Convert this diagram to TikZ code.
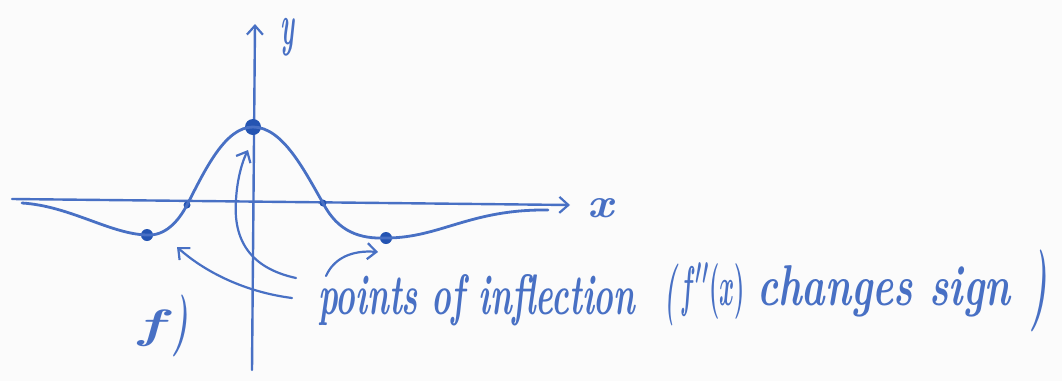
\documentclass[tikz,border=0pt]{standalone}
\usepackage{graphicx}
\usetikzlibrary{arrows.meta}
\definecolor{ink}{RGB}{72,112,196}
\definecolor{inkdark}{RGB}{36,84,178}
\definecolor{paper}{RGB}{251,251,251}
\begin{document}
\begin{tikzpicture}[x=1pt,y=-1pt,
  axisline/.style={draw=ink, line width=2.4pt, line cap=round, line join=round,
    -{Straight Barb[length=9pt,width=16pt,line width=2.2pt]}},
  curveline/.style={draw=ink, line width=2.8pt, line cap=round, line join=round},
  penarrow/.style={draw=ink, line width=2.2pt, line cap=round, line join=round,
    -{Straight Barb[length=9pt,width=16pt,line width=2.2pt]}},
  bigdot/.style={circle, fill=inkdark, inner sep=0pt, minimum size=16pt},
  middot/.style={circle, fill=inkdark, inner sep=0pt, minimum size=12pt},
  smalldot/.style={circle, fill=inkdark, inner sep=0pt, minimum size=7pt},
  hand/.style={text=ink, inner sep=0pt, font=\bfseries\itshape\mathversion{bold}}]
\path[fill=paper] (0,0) rectangle (1062,381);
% axes
\coordinate (xl) at (12,199);
\coordinate (xr) at (570,205);
\coordinate (yb) at (252,370);
\coordinate (yt) at (255,24);
\draw[axisline] (xl) -- (xr);
\draw[axisline] (yb) -- (yt);
% points on the curve
\coordinate (cl) at (22,203);
\coordinate (cr) at (548,210);
\node[middot] (minl) at (147,235) {};
\node[smalldot] (ipl) at (187,205) {};
\node[bigdot] (max) at (253,127) {};
\node[smalldot] (ipr) at (323,203) {};
\node[middot] (minr) at (386,238) {};
\draw[curveline] (cl) .. controls (70,206) and (110,234) .. (minl.center)
  .. controls (165,236) and (178,222) .. (ipl.center)
  .. controls (205,170) and (225,127) .. (max.center)
  .. controls (283,127) and (305,172) .. (ipr.center)
  .. controls (338,232) and (360,239) .. (minr.center)
  .. controls (440,238) and (470,209) .. (cr);
% labels
\node[hand, anchor=south west] (ylab) at (280,56) {\resizebox*{14pt}{38pt}{y}};
\node[hand, anchor=base west] (xlab) at (587,217) {\resizebox{26pt}{19pt}{x}};
\node[hand, anchor=south west] (flab) at (138,347) {\resizebox*{25pt}{37pt}{f}};
\node[hand, anchor=south west] (fpar) at (172,357) {\resizebox*{16pt}{62pt}{)}};
\node[hand, anchor=base west] (poi) at (318,314) {\resizebox{317pt}{40pt}{points of inflection}};
\node[hand, anchor=south west] (lp) at (664,326) {\resizebox*{12pt}{62pt}{(}};
\node[hand, anchor=base west] (fpp) at (680,305) {\resizebox{65pt}{42pt}{$f''(x)$}};
\node[hand, anchor=base west] (chg) at (757,305) {\resizebox{253pt}{40pt}{changes sign}};
\node[hand, anchor=south west] (rp) at (1030,332) {\resizebox*{17pt}{82pt}{)}};
% arrows from the label
\coordinate (a1s) at (296,278);
\coordinate (a1e) at (248,150);
\coordinate (a2s) at (292,298);
\coordinate (a2e) at (177,247);
\coordinate (a3s) at (326,276);
\coordinate (a3e) at (378,252);
\draw[penarrow] (a1s) .. controls (250,268) and (233,240) .. (236,200)
  .. controls (237,180) and (242,162) .. (a1e);
\draw[penarrow] (a2s) .. controls (245,292) and (205,272) .. (a2e);
\draw[penarrow] (a3s) .. controls (334,258) and (352,250) .. (a3e);
\end{tikzpicture}
\end{document}
